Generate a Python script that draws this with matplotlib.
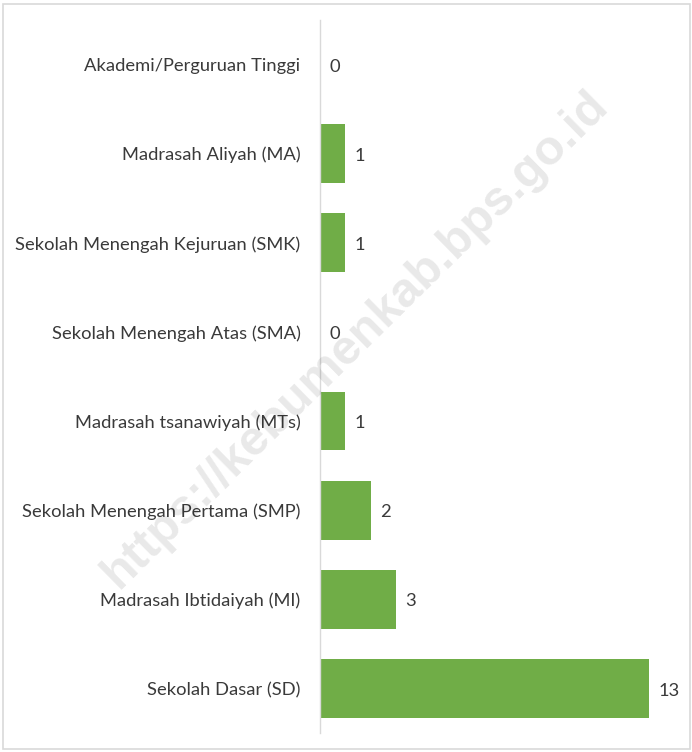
import matplotlib
matplotlib.use("Agg")
import matplotlib.pyplot as plt
from matplotlib.patches import Rectangle

categories = [
    "Sekolah Dasar (SD)",
    "Madrasah Ibtidaiyah (MI)",
    "Sekolah Menengah Pertama (SMP)",
    "Madrasah tsanawiyah (MTs)",
    "Sekolah Menengah Atas (SMA)",
    "Sekolah Menengah Kejuruan (SMK)",
    "Madrasah Aliyah (MA)",
    "Akademi/Perguruan Tinggi",
]
values = [13, 3, 2, 1, 0, 1, 1, 0]

plt.rcParams['font.family'] = ['Lato', 'DejaVu Sans']
W, H = 692, 752
fig = plt.figure(figsize=(W / 100, H / 100), dpi=100)

# outer border
fig.patches.append(Rectangle((3 / W, 3 / H), 687 / W, 745 / H, transform=fig.transFigure,
                             fill=False, edgecolor='#D9D9D9', linewidth=1.2))

ax_left, ax_right = 320, 674
ax_top, ax_bottom = 20, 733
ax = fig.add_axes([ax_left / W, 1 - ax_bottom / H, (ax_right - ax_left) / W, (ax_bottom - ax_top) / H])

y = list(range(len(categories)))
ax.barh(y, values, height=0.66, color='#70AD47', zorder=2)
ax.set_xlim(0, 14)
ax.set_ylim(-0.5, len(categories) - 0.5)
ax.set_yticks(y)
ax.set_yticklabels(categories, fontsize=13.2, color='#3A3A3A')
ax.tick_params(axis='y', length=0, pad=14)
ax.set_xticks([])
for s in ['top', 'right', 'bottom']:
    ax.spines[s].set_visible(False)
ax.spines['left'].set_color('#D9D9D9')
ax.spines['left'].set_linewidth(1)

for yi, v in zip(y, values):
    ax.annotate(str(v), (v, yi), xytext=(7, -1.5), textcoords='offset points',
                va='center', ha='left', fontsize=13.2, color='#3A3A3A')

fig.text(355 / W, 1 - 340 / H, "https://kebumenkab.bps.go.id", rotation=44.5,
         ha='center', va='center', fontsize=35, fontweight='bold',
         family=['Liberation Sans', 'DejaVu Sans'], color='#000000', alpha=0.09, zorder=10)

fig.savefig("out.png", dpi=100)
